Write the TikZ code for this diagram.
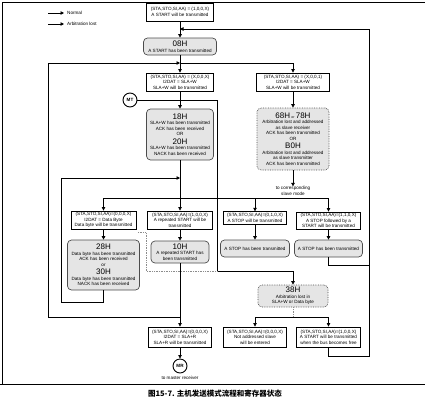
\documentclass[tikz,border=0pt]{standalone}
\usepackage{fontspec}
\setmainfont{Liberation Sans}
\newfontfamily\cjk{Noto Sans CJK SC}
\usetikzlibrary{arrows.meta}
\newcommand{\stname}[1]{{\fontsize{8}{8}\selectfont #1}}

\begin{document}
\begin{tikzpicture}[x=1pt,y=-1pt,
    txt/.style={font=\fontsize{4.6}{5.5}\selectfont, align=center, inner sep=0pt},
    cmdbox/.style={txt, draw, line width=0.9pt, fill=white, minimum height=18pt},
    statebox/.style={txt, draw=black!70, line width=0.7pt, fill=black!10, rounded corners=4pt},
    lostbox/.style={statebox, densely dotted},
    term/.style={circle, draw, line width=0.9pt, minimum size=14pt, inner sep=0pt,
                 font=\fontsize{4.6}{5}\selectfont\bfseries},
    link/.style={line width=0.7pt},
    go/.style={link, -{Triangle[length=3.5pt,width=3.5pt]}},
    lost/.style={link, draw=black!45, densely dotted}]
    \useasboundingbox (0,0) rectangle (425,413);
    % frame and caption
    \draw[line width=0.8pt] (425,2) -- (2,2) -- (2,384);
    \draw[line width=0.8pt] (0,384) -- (425,384);
    \node[inner sep=0pt, font=\cjk\bfseries\fontsize{7.5}{8}\selectfont] (caption) at (215,394) {图15-7. 主机发送模式流程和寄存器状态};

    % legend
    \node[txt, anchor=west] (normal) at (67,13) {Normal};
    \node[txt, anchor=west] (arblost) at (67,24) {Arbitration lost};
    \coordinate (legA) at (48,13);
    \coordinate (legB) at (48,24);
    \draw[go] (legA) -- ([xshift=-3pt]normal.west);
    \draw[go] (legB) -- ([xshift=-3pt]arblost.west);

    % states and commands
    \node[cmdbox, minimum width=67pt] (start) at (180,12) {(STA,STO,SI,AA) = (1,0,0,X)\\A START will be transmitted};
    \node[statebox, minimum width=73pt, minimum height=17pt] (s08) at (180,46.5) {\stname{08H}\\A START has been transmitted};
    \node[cmdbox, minimum width=67pt] (slaw) at (180,82) {(STA,STO,SI,AA) = (X,0,0,X)\\I2DAT = SLA+W\\SLA+W will be transmitted};
    \node[cmdbox, minimum width=73pt] (slaw1) at (293,82) {(STA,STO,SI,AA) = (X,0,0,1)\\I2DAT = SLA+W\\SLA+W will be transmitted};
    \node[lostbox, minimum width=72pt, minimum height=62pt] (s68) at (293,139)
        {\stname{68H} {\fontsize{3.5}{4}\selectfont or} \stname{78H}\\Arbitration lost and addressed\\as slave receiver\\ACK has been transmitted\\OR\\[2pt]\stname{B0H}\\Arbitration lost and addressed\\as slave transmitter\\ACK has been transmitted};
    \node[txt] (slave) at (293,191) {to corresponding\\slave mode};
    \node[term] (mt) at (130,100) {MT};
    \node[statebox, minimum width=67pt, minimum height=51pt] (s18) at (180,134.5)
        {\stname{18H}\\SLA+W has been transmitted\\ACK has been received\\OR\\[2pt]\stname{20H}\\SLA+W has been transmitted\\NACK has been received};

    \node[cmdbox, minimum width=65pt] (data) at (103.5,220) {(STA,STO,SI,AA)=(0,0,0,X)\\I2DAT = Data Byte\\Data byte will be transmitted};
    \node[cmdbox, minimum width=65pt] (rstart) at (180,220) {(STA,STO,SI,AA)=(1,0,0,X)\\A repeated START will be\\transmitted};
    \node[cmdbox, minimum width=63pt, minimum height=12.5pt] (stop) at (255,218) {(STA,STO,SI,AA)=(0,1,0,X)\\A STOP will be transmitted};
    \node[cmdbox, minimum width=64pt, minimum height=17pt] (stopsta) at (328.5,220.5) {(STA,STO,SI,AA)=(1,1,0,X)\\A STOP followed by a\\START will be transmitted};

    \node[statebox, minimum width=72pt, minimum height=50pt] (s28) at (103.5,265)
        {\stname{28H}\\Data byte has been transmitted\\ACK has been received\\or\\[2pt]\stname{30H}\\Data byte has been transmitted\\NACK has been received};
    \node[statebox, minimum width=58pt, minimum height=22pt] (s10) at (180,252) {\stname{10H}\\A repeated START has\\been transmitted};
    \node[statebox, minimum width=69pt, minimum height=17pt] (stopdone1) at (255,248.5) {A STOP has been transmitted};
    \node[statebox, minimum width=68pt, minimum height=17pt] (stopdone2) at (328.5,248.5) {A STOP has been transmitted};
    \node[lostbox, minimum width=70pt, minimum height=22pt] (s38) at (293,296) {\stname{38H}\\Arbitration lost in\\SLA+W or Data byte};

    \node[cmdbox, minimum width=63pt, minimum height=20pt] (slar) at (180,337) {(STA,STO,SI,AA)=(0,0,0,X)\\I2DAT = SLA+R\\SLA+R will be transmitted};
    \node[cmdbox, minimum width=63pt, minimum height=20pt] (noaddr) at (255,337) {(STA,STO,SI,AA)=(0,0,0,X)\\Not addressed slave\\will be entered};
    \node[cmdbox, minimum width=64pt, minimum height=20pt] (startfree) at (328.5,337) {(STA,STO,SI,AA)=(1,0,0,X)\\A START will be transmitted\\when the bus becomes free};
    \node[term] (mr) at (180,366) {MR};
    \node[txt, below=2.5pt] (mrtext) at (mr.south) {to master receiver};

    % junctions
    \coordinate (ja) at (180,63);
    \coordinate (jb) at (180,100);
    \coordinate (jc) at (217,271);
    \coordinate (jd) at (180,198);
    \coordinate (jf) at (180,178);
    \coordinate (jg) at (180,317);
    \coordinate (jh) at (369,29);
    \coordinate (ji) at (180,29);
    \coordinate (jk) at (293,317);

    % normal paths
    \draw[go] (start) -- (s08);
    \draw[go] (s08) -- (slaw);
    \draw[go] (ja) -| (slaw1);
    \draw[go] (slaw1) -- (s68);
    \draw[go] (s68) -- (slave);
    \draw[go] (slaw) -- (s18);
    \draw[link] (mt) -- (jb);
    \draw[go] (jb) -| (jc) -| (s38);
    \draw[go] (s18) -- (rstart);
    \draw[go] (jd) -| (data);
    \draw[go] (jd) -| (stopsta);
    \draw[go] (jd -| stop) -- (stop);
    \draw[go] (data) -- (s28);
    \draw[go] (rstart) -- (s10);
    \draw[go] (stop) -- (stopdone1);
    \draw[go] (stopsta) -- (stopdone2);
    \draw[go] (s28.south) -- ++(0,12) -| (61,178) -- (jf);
    \draw[go] (s10) -- (slar);
    \draw[go] (jg) -- (48,317) |- (ja);
    \draw[go] (stopdone2.south) -- ++(0,7.5) -| (jh) -- (ji);
    \draw[link] (startfree.south) -- ++(0,9) -| (369,264);
    \draw[go] (jk) -| (noaddr);
    \draw[go] (jk) -| (startfree);
    \draw[go] (slar) -- (mr);

    % arbitration lost paths
    \draw[lost] (data.south east) ++(1.5,3) -| (146,271) -- (jc);
    \draw[lost] (s38) -- (jk);
\end{tikzpicture}
\end{document}
